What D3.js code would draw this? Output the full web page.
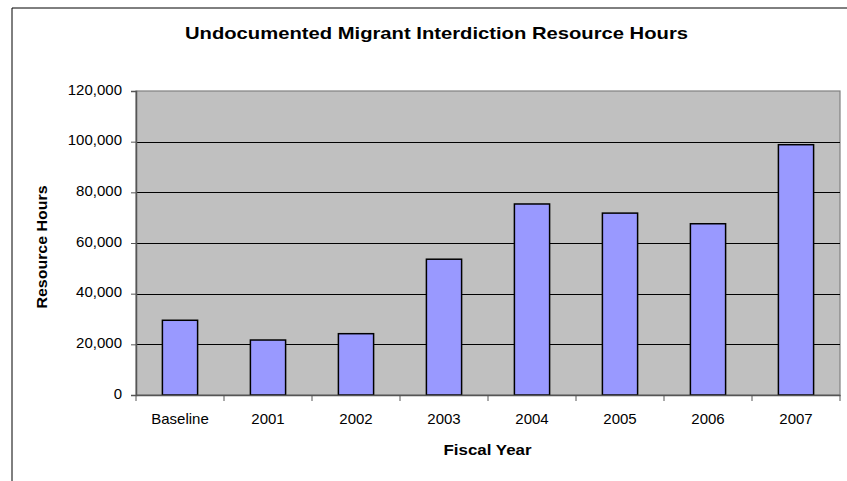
<!DOCTYPE html>
<html><head><meta charset="utf-8">
<script src="https://cdn.jsdelivr.net/npm/d3@7"></script>
<style>body{margin:0;background:#fff}svg{display:block}</style>
</head><body>
<svg id="c" width="847" height="481"></svg>
<script>
const categories = ["Baseline","2001","2002","2003","2004","2005","2006","2007"];
const hours = [29500,21700,24200,53600,75400,71800,67600,98800];
const yTicks = [0,20000,40000,60000,80000,100000,120000];
const titleText = "Undocumented Migrant Interdiction Resource Hours";
const xTitle = "Fiscal Year";
const yTitle = "Resource Hours";

const svg = d3.select("#c");
const font = "Arial, 'Liberation Sans', sans-serif";
const m = {left:136, right:840, top:91, bottom:395};

// outer border
svg.append("path").attr("d","M12,481 L12,8 L847,8").attr("fill","none").attr("stroke","#000").attr("stroke-width",1);

const x = d3.scaleBand().domain(categories).range([m.left,m.right]).paddingInner(0.6).paddingOuter(0.3);
const xb = d3.scaleBand().domain(categories).range([m.left,m.right]);
const y = d3.scaleLinear().domain([0,120000]).range([m.bottom,m.top]);

svg.append("rect").attr("x",m.left).attr("y",m.top).attr("width",m.right-m.left).attr("height",m.bottom-m.top)
  .attr("fill","#C0C0C0").attr("stroke","#808080").attr("stroke-width",1.2);

// gridlines
svg.append("g").selectAll("line").data(yTicks.filter(d=>d>0 && d<120000)).join("line")
  .attr("x1",m.left).attr("x2",m.right).attr("y1",d=>Math.round(y(d))+0.5).attr("y2",d=>Math.round(y(d))+0.5)
  .attr("stroke","#000").attr("stroke-width",1);

// bars
svg.append("g").selectAll("rect").data(hours).join("rect")
  .attr("x",(d,i)=>x(categories[i])).attr("width",x.bandwidth())
  .attr("y",d=>y(d)).attr("height",d=>m.bottom-y(d))
  .attr("fill","#9999FF").attr("stroke","#000").attr("stroke-width",1.5);

// y axis
const ya = svg.append("g").attr("transform",`translate(${m.left},0)`)
  .call(d3.axisLeft(y).tickValues(yTicks).tickSize(5).tickPadding(9).tickFormat(d3.format(",")));
ya.select(".domain").attr("stroke","#555").attr("stroke-width",1.5);
ya.selectAll(".tick line").attr("stroke","#555");
ya.selectAll("text").attr("font-family",font).attr("font-size",15).attr("fill","#000").attr("dy","0.22em");

// x axis
const xa = svg.append("g").attr("transform",`translate(0,${m.bottom})`)
  .call(d3.axisBottom(xb).tickSize(0).tickPadding(18));
xa.select(".domain").attr("stroke","#555").attr("stroke-width",1.5);
xa.selectAll("text").attr("font-family",font).attr("font-size",15).attr("fill","#000").attr("y",29).attr("dy",0);
xa.selectAll(".tk").data(categories.concat(["_end"])).join("line").attr("class","tk")
  .attr("x1",(d,i)=>m.left+i*xb.bandwidth()).attr("x2",(d,i)=>m.left+i*xb.bandwidth())
  .attr("y1",0).attr("y2",6).attr("stroke","#555");

// titles
svg.append("text").attr("x",436.5).attr("y",39).attr("text-anchor","middle")
  .attr("font-family",font).attr("font-weight","bold").attr("font-size",17)
  .attr("textLength",503).attr("lengthAdjust","spacingAndGlyphs").text(titleText);
svg.append("text").attr("x",487.5).attr("y",455).attr("text-anchor","middle")
  .attr("font-family",font).attr("font-weight","bold").attr("font-size",15)
  .attr("textLength",88).attr("lengthAdjust","spacingAndGlyphs").text(xTitle);
svg.append("text").attr("transform","translate(47,247) rotate(-90)").attr("text-anchor","middle")
  .attr("font-family",font).attr("font-weight","bold").attr("font-size",15)
  .attr("textLength",123).attr("lengthAdjust","spacingAndGlyphs").text(yTitle);
</script>
</body></html>
